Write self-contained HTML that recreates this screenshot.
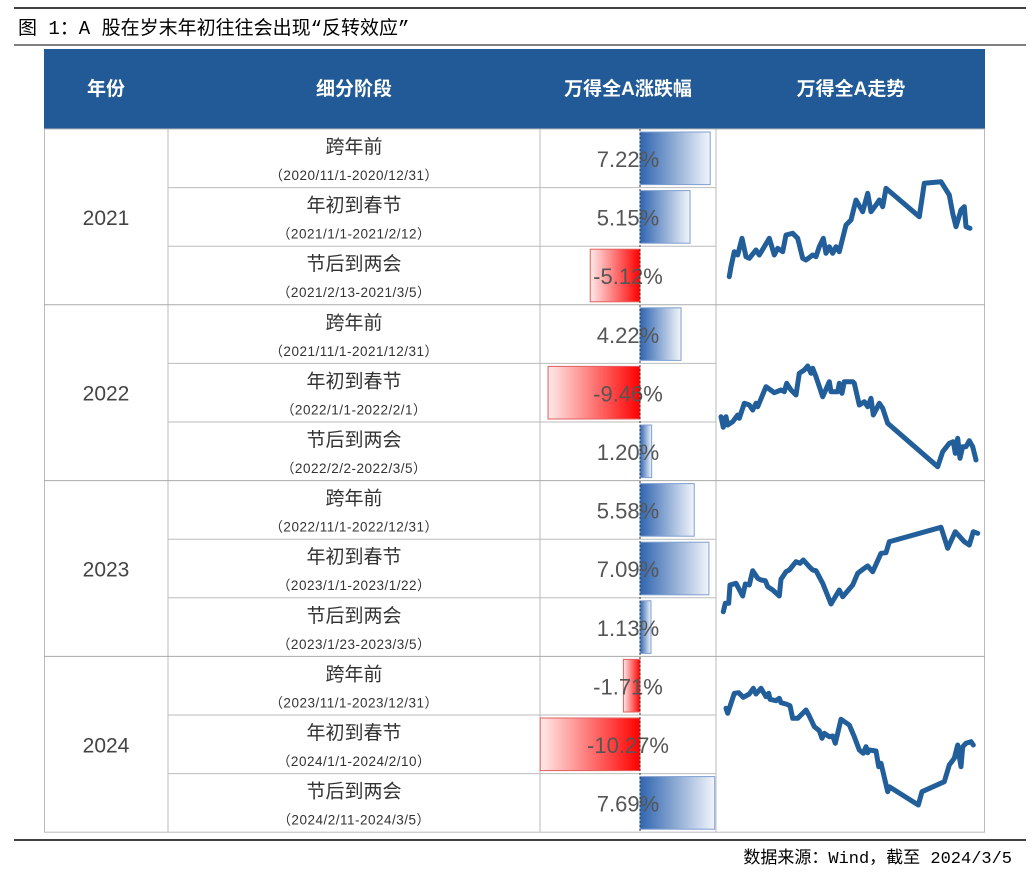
<!DOCTYPE html>
<html><head><meta charset="utf-8">
<style>
body{margin:0;background:#fff;width:1032px;height:870px;overflow:hidden;font-family:"Liberation Sans","Noto Sans CJK SC",sans-serif;}
svg text{font-family:"Liberation Sans","Noto Sans CJK SC",sans-serif;}
svg text.mono{font-family:"Liberation Mono","Noto Sans CJK SC",monospace;}
</style></head><body>
<svg id="s" width="1032" height="870" xmlns="http://www.w3.org/2000/svg">
<defs>
<linearGradient id="gb" x1="0" x2="1"><stop offset="0" stop-color="#2f65b0"/><stop offset="1" stop-color="#f2f5fb"/></linearGradient>
<linearGradient id="gr" x1="0" x2="1"><stop offset="0" stop-color="#ffeaea"/><stop offset="1" stop-color="#ff0000"/></linearGradient>
</defs>
<line x1="14" y1="8" x2="1026" y2="8" stroke="#000" stroke-width="1.5"/>
<text class="mono" x="18" y="34" font-size="19" fill="#000">图 1：A 股在岁末年初往往会出现“反转效应”</text>
<line x1="14" y1="45" x2="1026" y2="45" stroke="#000" stroke-width="1"/>
<rect x="44" y="49" width="941" height="80" fill="#215A96"/>
<g fill="#fff" font-size="19" font-weight="bold" text-anchor="middle">
<text x="106" y="95">年份</text>
<text x="354" y="95">细分阶段</text>
<text x="628" y="95">万得全A涨跌幅</text>
<text x="851" y="95">万得全A走势</text>
</g>
<g id="tbl"></g>
<line x1="14" y1="840" x2="1026" y2="840" stroke="#000" stroke-width="1.5"/>
<text class="mono" x="1012" y="863" font-size="17" text-anchor="end" fill="#000">数据来源：Wind，截至 2024/3/5</text>
</svg>
<script>
const years=['2021','2022','2023','2024'];
const stages=['跨年前','年初到春节','节后到两会','跨年前','年初到春节','节后到两会','跨年前','年初到春节','节后到两会','跨年前','年初到春节','节后到两会'];
const ranges=['（2020/11/1-2020/12/31）','（2021/1/1-2021/2/12）','（2021/2/13-2021/3/5）','（2021/11/1-2021/12/31）','（2022/1/1-2022/2/1）','（2022/2/2-2022/3/5）','（2022/11/1-2022/12/31）','（2023/1/1-2023/1/22）','（2023/1/23-2023/3/5）','（2023/11/1-2023/12/31）','（2024/1/1-2024/2/10）','（2024/2/11-2024/3/5）'];
const changes=[7.22,5.15,-5.12,4.22,-9.46,1.20,5.58,7.09,1.13,-1.71,-10.27,7.69];
const t2021=[40,45,55,65,78,90,100,120,130,160,175,185,200,210,230,245,260,270,290,300,310,322,330,340,350,360,370,390,405,420,440,455,465,480,490,500,510,610,625,675,700,710,720,735,745,750,762];
const v2021=[50,80,125,115,165,110,105,130,115,165,115,135,125,175,180,165,105,100,115,110,140,165,120,140,120,140,125,205,220,280,245,300,245,265,280,260,315,230,330,335,295,240,200,250,260,200,195];
const t2022=[15,22,30,35,50,65,70,85,100,110,120,125,150,175,195,205,212,225,240,250,265,275,285,290,300,320,340,345,365,370,378,385,410,415,430,445,455,465,472,490,500,515,665,680,700,712,718,725,732,740,750,760,770,780];
const v2022=[170,138,170,145,155,175,165,210,205,190,210,200,260,242,250,245,270,250,235,300,310,322,300,315,290,230,275,245,245,270,240,275,275,270,205,215,200,225,175,210,195,150,20,65,90,95,60,105,45,80,80,98,80,40];
const t2023=[22,28,38,42,60,80,88,100,110,125,135,148,155,170,190,195,210,220,240,252,262,280,290,300,320,345,370,380,410,425,445,455,470,495,510,520,675,695,718,745,760,772,785];
const v2023=[95,120,120,175,180,142,178,175,218,195,190,188,170,160,142,192,215,220,245,240,250,230,220,218,180,118,160,140,175,210,225,232,215,270,272,305,348,285,335,305,295,335,330];
const t2024=[30,35,55,68,82,100,112,120,135,150,158,162,180,190,195,210,222,230,245,270,280,295,310,318,325,340,350,358,375,400,415,430,442,450,455,460,480,488,495,515,520,607,618,685,700,715,725,730,735,740,750,765,772];
const v2024=[285,270,330,332,318,328,345,328,345,320,330,312,308,315,302,298,293,255,255,280,262,230,218,195,210,200,202,180,252,235,200,160,150,170,152,160,157,110,120,35,50,-5,35,65,115,135,175,140,110,170,180,185,175];
const series=[[t2021,v2021],[t2022,v2022],[t2023,v2023],[t2024,v2024]];
const chartTop=[160,340,510,670];

const NS='http://www.w3.org/2000/svg';
const g=document.getElementById('tbl');
function mk(tag,a,txt){const e=document.createElementNS(NS,tag);for(const k in a)e.setAttribute(k,a[k]);if(txt!==undefined)e.textContent=txt;g.appendChild(e);return e;}
const top0=129,rh=58.6,zeroX=640,pxPer=9.72;
const xBar=v=>zeroX+v*pxPer;
mk('rect',{x:44.5,y:top0,width:940,height:rh*12,fill:'none',stroke:'#bbb'});
for(const x of [168,540,716]) mk('line',{x1:x,y1:top0,x2:x,y2:top0+rh*12,stroke:'#bbb'});
for(let i=0;i<12;i++){
  const y=top0+i*rh;
  if(i>0){const yr=i%3===0;
    if(yr) mk('line',{x1:44,y1:y,x2:985,y2:y,stroke:'#aaa'});
    else mk('line',{x1:168,y1:y,x2:716,y2:y,stroke:'#bbb'});}
  let e=mk('text',{x:354,y:y+24,'font-size':19,'text-anchor':'middle',fill:'#333'},stages[i]);
  
  
  e=mk('text',{x:354,y:y+51,'font-size':13.5,'text-anchor':'middle',fill:'#333','letter-spacing':'0.5'},ranges[i]);
  
  
  const v=changes[i],x1=Math.min(zeroX,xBar(v)),w=Math.abs(xBar(v)-zeroX);
  e=mk('rect',{x:x1,y:y+3,width:w,height:rh-6,fill:v>=0?'url(#gb)':'url(#gr)',stroke:v>=0?'#7f9fd0':'#e06060','stroke-width':1});
  
  
  e=mk('text',{x:628,y:y+38,'font-size':22,'text-anchor':'middle',fill:'#555'},v.toFixed(2)+'%');
  
  
}
mk('line',{x1:zeroX,y1:top0,x2:zeroX,y2:top0+rh*12,stroke:'#333','stroke-dasharray':'2,2'});
years.forEach((yv,k)=>{
  const y=top0+k*3*rh+1.5*rh;
  const e=mk('text',{x:106,y:y+8,'font-size':21,'text-anchor':'middle',fill:'#444'},yv);
  
  
  const [ts,vs]=series[k];
  const sx=t=>716+t/3, sy=v=>chartTop[k]+(400-v)/3;
  const pts=ts.map((t,i)=>sx(t).toFixed(1)+','+sy(vs[i]).toFixed(1)).join(' ');
  const p=mk('polyline',{points:pts,fill:'none',stroke:'#215E9A','stroke-width':5,'stroke-linejoin':'round','stroke-linecap':'round'});
  
  
});
</script>
</body></html>
